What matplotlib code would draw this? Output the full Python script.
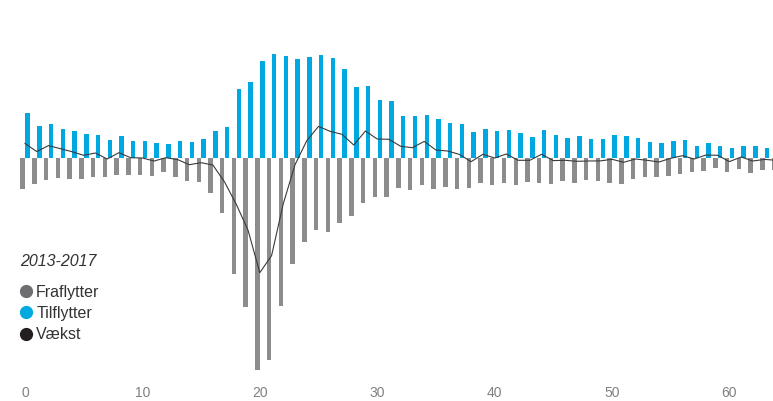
import matplotlib.pyplot as plt
from matplotlib.lines import Line2D

# Ages 0-64
ages = list(range(65))

# Tilflytter (moving in)
tilflytter = [45.6, 32, 34, 29, 27.6, 24, 23.6, 18.3, 22.6, 17.6,
              17.3, 15, 14.6, 17, 16.3, 19.6, 27.6, 31.3, 69.6, 76.3,
              97.3, 104.3, 102.3, 99.3, 101.6, 103.6, 100.6, 89, 71, 72.3,
              58.3, 57.3, 42, 42.3, 43.6, 39.3, 35.6, 34.6, 26.6, 29,
              27.3, 28.6, 25, 21.7, 28.3, 23.7, 20.7, 22, 19, 19.7,
              23.3, 22, 20.3, 16.3, 15.3, 17.3, 18.3, 12.6, 15.6, 12.3,
              10, 12.3, 12.3, 10.6, 10]

# Fraflytter (moving out), magnitudes
fraflytter = [30.7, 25.3, 21.3, 19.3, 21, 21, 18.3, 19, 17, 17,
              17, 17.7, 14, 18.3, 22.7, 24, 34.3, 55, 115.7, 148.3,
              211.7, 201.7, 147.7, 105.7, 84, 71.7, 73.7, 65, 57.7, 45,
              39, 38.3, 30, 31.7, 26.7, 31, 28.3, 30.7, 30, 25,
              27, 24.3, 27, 23.7, 24.3, 26, 22.7, 25, 21.7, 22.3,
              24.3, 26, 21, 18.3, 19, 17.3, 15.7, 13.3, 12.3, 9.3,
              13.3, 11, 15, 11.7, 12]

# Vækst = tilflyttere minus fraflyttere
vaekst = [t - f for t, f in zip(tilflytter, fraflytter)]

xticks = [0, 10, 20, 30, 40, 50, 60]

blue = '#00a8e1'
grey = '#8c8c8c'

fig = plt.figure(figsize=(7.73, 4.01), dpi=100)
ax = fig.add_axes([0, 26 / 401, 1, 375 / 401])

w = 0.38
ax.bar([a - 0.2 for a in ages], [-f for f in fraflytter], width=w, color=grey, linewidth=0)
ax.bar([a + 0.22 for a in ages], tilflytter, width=w, color=blue, linewidth=0)
ax.plot(ages, vaekst, color='#3a3a3a', lw=0.8)

ax.set_xlim(-25 / 11.74, 748 / 11.74)
ax.set_ylim(-216.7, 158.3)

for s in ax.spines.values():
    s.set_visible(False)
ax.set_yticks([])
ax.set_xticks(xticks)
ax.set_xticklabels([str(t) for t in xticks], fontsize=10, color='#808080',
                   family='Liberation Sans')
ax.tick_params(axis='x', length=0, pad=8)

# Legend title as its own text
ax.text(20 / 773, 1 - 262 / 375, '2013-2017', transform=ax.transAxes,
        ha='left', va='center', fontsize=11.5, fontstyle='italic',
        family='Liberation Sans', color='#333333')

handles = [
    Line2D([], [], marker='o', ls='', color='#6e6e70', markersize=8.5),
    Line2D([], [], marker='o', ls='', color='#00a9e0', markersize=8.5),
    Line2D([], [], marker='o', ls='', color='#231f20', markersize=8.5),
]
leg = ax.legend(handles, ['Fraflytter', 'Tilflytter', 'Vækst'],
                loc='upper left', bbox_to_anchor=(17 / 773, 1 - 285 / 375),
                frameon=False, borderpad=0, borderaxespad=0,
                handletextpad=0.1, handlelength=1.1, labelspacing=0.38,
                prop={'family': 'Liberation Sans', 'size': 11.5})
for t in leg.get_texts():
    t.set_color('#333333')

plt.savefig('out.png', dpi=100)
